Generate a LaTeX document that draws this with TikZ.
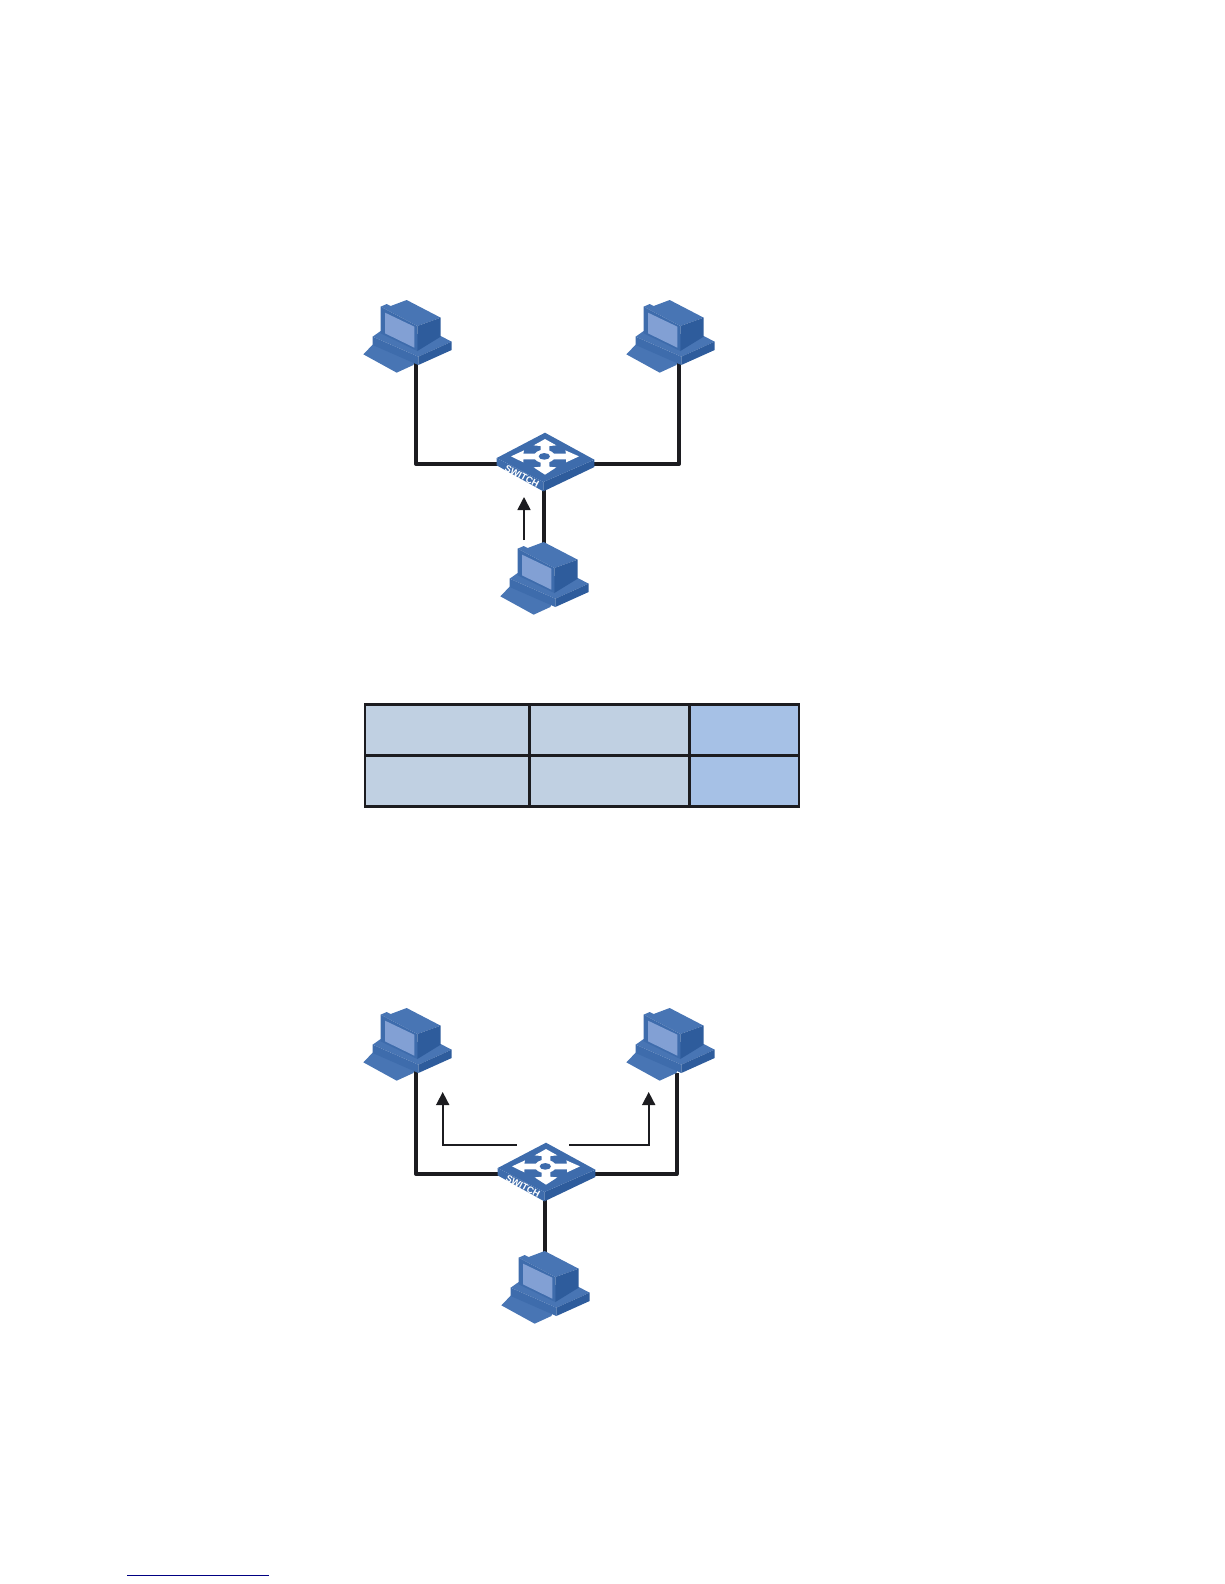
\documentclass[tikz,border=0pt]{standalone}
\usepackage{fontspec}
\setmainfont{Liberation Sans}
\usepackage{tikz}
\usetikzlibrary{arrows.meta, backgrounds}
\definecolor{cTop}{RGB}{72,117,180}
\definecolor{cFront}{RGB}{62,108,172}
\definecolor{cSide}{RGB}{46,92,156}
\definecolor{cScreen}{RGB}{130,160,212}
\definecolor{cLine}{RGB}{28,28,32}
\definecolor{cCellA}{RGB}{192,208,226}
\definecolor{cCellB}{RGB}{166,193,230}
\definecolor{cRule}{RGB}{0,0,130}
\tikzset{
	link/.style     ={line width=3.8pt, cLine, line join=round},
	flow/.style     ={-{Triangle[length=13pt, width=13pt]}, line width=1.7pt, cLine},
	cell/.style     ={rectangle, draw=cLine, line width=2.7pt, inner sep=0pt, outer sep=0pt, minimum height=51pt},
	cellpale/.style ={cell, fill=cCellA},
	cellblue/.style ={cell, fill=cCellB},
	pics/pc/.style={code={
		\begin{scope}[x=.3333pt, y=-.3333pt, shift={(-168,-207)}]
			\fill[cTop] (10,175) -- (38,146) -- (60,140) -- (165,195) -- (160,207) -- (110,230) -- cycle;
			\fill[cTop] (38,122) -- (62,105) -- (242,120) -- (275,137) -- (175,182) -- cycle;
			\fill[cFront] (38,122) -- (175,182) -- (175,207) -- (38,147) -- cycle;
			\fill[cSide] (175,182) -- (275,137) -- (275,162) -- (175,207) -- cycle;
			\fill[cTop] (62,32) -- (80,24) -- (92,30) -- (140,12) -- (242,65) -- (172,90) -- cycle;
			\fill[cFront] (62,32) -- (172,90) -- (172,165) -- (62,112) -- cycle;
			\fill[cSide] (172,90) -- (242,65) -- (242,122) -- (172,165) -- cycle;
			\fill[cScreen] (75,50) -- (163,92) -- (163,155) -- (75,112) -- cycle;
			\coordinate (-port) at (168,200);
			\coordinate (-top) at (141,14);
		\end{scope}
	}},
	pics/switch/.style={code={
		\begin{scope}[x=.3333pt, y=-.3333pt, shift={(-150,-14)}]
			\fill[cFront] (5,90) -- (145,162) -- (145,190) -- (5,112) -- cycle;
			\fill[cSide] (145,162) -- (298,95) -- (298,117) -- (145,190) -- cycle;
			\fill[cFront] (5,90) -- (150,14) -- (298,95) -- (145,162) -- cycle;
			% four arrows round the ring
			\fill[white] (150,33) -- (184,52) -- (163,54) -- (163,72) -- (137,72) -- (137,54) -- (116,52) -- cycle;
			\fill[white] (150,140) -- (184,118) -- (163,116) -- (163,98) -- (137,98) -- (137,116) -- (116,118) -- cycle;
			\fill[white] (48,85) -- (87,67) -- (85,77) -- (125,77) -- (125,94) -- (85,94) -- (85,103) -- cycle;
			\fill[white] (252,85) -- (211,67) -- (213,77) -- (172,77) -- (172,94) -- (213,94) -- (213,103) -- cycle;
			\fill[white] (148,85) ellipse (31 and 20);
			\fill[cFront] (148,85) ellipse (17 and 10);
			\node[white, font=\bfseries\fontsize{9.4}{9.4}\selectfont, rotate=-28, inner sep=0pt] (-label) at (81,145) {SWITCH};
			\coordinate (-left) at (15,108);
			\coordinate (-right) at (288,108);
			\coordinate (-bottom) at (148,185);
		\end{scope}
	}},
}
\begin{document}
\begin{tikzpicture}[x=1pt, y=-1pt]
	\useasboundingbox (0,0) rectangle (1224,1584);
	% upper network
	\pic (pcA) at (416,365) {pc};
	\pic (pcB) at (679,365) {pc};
	\pic (pcC) at (553,607) {pc};
	\pic (swA) at (545,432.7) {switch};
	\begin{scope}[on background layer]
		\draw[link] (pcA-port) |- (swA-left);
		\draw[link] (pcB-port) |- (swA-right);
		\draw[link] (swA-bottom) -- (swA-bottom |- pcC-top);
	\end{scope}
	\coordinate (arrowCs) at (524,540);
	\coordinate (arrowCe) at (524,497);
	\draw[flow] (arrowCs) -- (arrowCe);
	% table
	\node[cellpale, minimum width=164.3pt] (cellAa) at (447.2,729.8) {};
	\node[cellpale, minimum width=160pt] (cellAb) at (609.3,729.8) {};
	\node[cellblue, minimum width=109.7pt] (cellAc) at (744.2,729.8) {};
	\node[cellpale, minimum width=164.3pt] (cellBa) at (447.2,781.3) {};
	\node[cellpale, minimum width=160pt] (cellBb) at (609.3,781.3) {};
	\node[cellblue, minimum width=109.7pt] (cellBc) at (744.2,781.3) {};
	% lower network
	\pic (pcD) at (416,1073) {pc};
	\pic (pcE) at (679,1073) {pc};
	\pic (pcF) at (554,1316) {pc};
	\pic (swB) at (546,1142.7) {switch};
	\coordinate (portE) at (676.7,1073);
	\begin{scope}[on background layer]
		\draw[link] (pcD-port) |- (swB-left);
		\draw[link] (portE) |- (swB-right);
		\draw[link] (swB-bottom) -- (swB-bottom |- pcF-top);
	\end{scope}
	\coordinate (arrowDs) at (516.7,1145);
	\coordinate (arrowDe) at (442.7,1092);
	\coordinate (arrowEs) at (569.3,1145);
	\coordinate (arrowEe) at (648.7,1092);
	\draw[flow] (arrowDs) -| (arrowDe);
	\draw[flow] (arrowEs) -| (arrowEe);
	% footer rule
	\coordinate (ruleL) at (127,1575);
	\coordinate (ruleR) at (269,1575);
	\draw[cRule, line width=1pt] (ruleL) -- (ruleR);
\end{tikzpicture}
\end{document}
